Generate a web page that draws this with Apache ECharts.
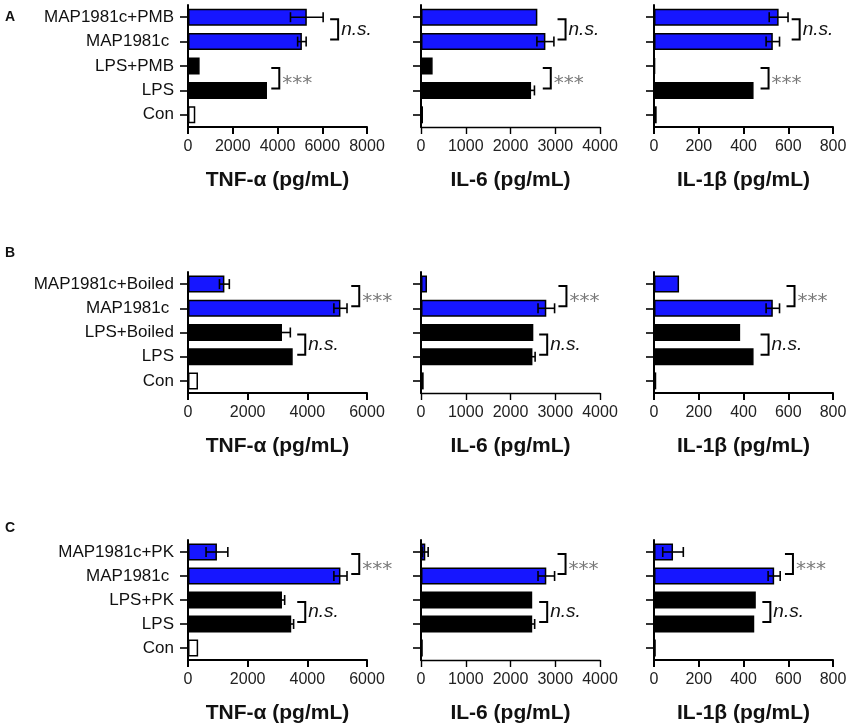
<!DOCTYPE html>
<html>
<head>
<meta charset="utf-8">
<script src="https://cdn.jsdelivr.net/npm/echarts@6/dist/echarts.min.js"></script>
<style>
  html, body { margin: 0; padding: 0; background: #fff; }
  #main { width: 851px; height: 727px; }
</style>
</head>
<body>
<div id="main"></div>
<script>
// groups, top to bottom, one list per row (A, B, C)
var catsA = ['MAP1981c+PMB', 'MAP1981c ', 'LPS+PMB', 'LPS', 'Con'];
var catsB = ['MAP1981c+Boiled', 'MAP1981c ', 'LPS+Boiled', 'LPS', 'Con'];
var catsC = ['MAP1981c+PK', 'MAP1981c ', 'LPS+PK', 'LPS', 'Con'];

// means and SEM (pg/mL), same order as the categories
var tnfA = [5310, 5090, 520, 3530, 325];
var tnfErrA = [730, 190, 0, 0, 0];
var il6A = [2600, 2780, 260, 2460, 45];
var il6ErrA = [0, 190, 0, 75, 0];
var il1bA = [557, 531, 5, 445, 12];
var il1bErrA = [42, 30, 0, 0, 0];

var tnfB = [1220, 5110, 3150, 3510, 335];
var tnfErrB = [165, 220, 280, 0, 0];
var il6B = [134, 2800, 2510, 2490, 60];
var il6ErrB = [0, 185, 0, 60, 0];
var il1bB = [112, 531, 385, 445, 10];
var il1bErrB = [0, 30, 0, 0, 0];

var tnfC = [970, 5110, 3150, 3460, 340];
var tnfErrC = [365, 220, 90, 80, 0];
var il6C = [96, 2800, 2485, 2485, 40];
var il6ErrC = [64, 185, 0, 55, 0];
var il1bC = [85, 537, 455, 448, 8];
var il1bErrC = [46, 27, 0, 0, 0];

// axis ranges per column, per row
var tnfMax = [8000, 6000, 6000];
var il6Max = [4000, 4000, 4000];
var il1bMax = [800, 800, 800];
var axisStep = [2000, 1000, 200];

var axisTitles = ['TNF-\u03b1 (pg/mL)', 'IL-6 (pg/mL)', 'IL-1\u03b2 (pg/mL)'];
var panelLetters = ['A', 'B', 'C'];

// significance brackets: [row, col, upper group, lower group, x of bracket, label]
var sigMarks = [
  [0, 0, 0, 1, 6710, 'n.s.'], [0, 0, 2, 3, 4080, '***'],
  [0, 1, 0, 1, 3230, 'n.s.'], [0, 1, 2, 3, 2900, '***'],
  [0, 2, 0, 1, 651, 'n.s.'], [0, 2, 2, 3, 512, '***'],
  [1, 0, 0, 1, 5740, '***'], [1, 0, 2, 3, 3930, 'n.s.'],
  [1, 1, 0, 1, 3250, '***'], [1, 1, 2, 3, 2820, 'n.s.'],
  [1, 2, 0, 1, 628, '***'], [1, 2, 2, 3, 512, 'n.s.'],
  [2, 0, 0, 1, 5740, '***'], [2, 0, 2, 3, 3930, 'n.s.'],
  [2, 1, 0, 1, 3230, '***'], [2, 1, 2, 3, 2820, 'n.s.'],
  [2, 2, 0, 1, 621, '***'], [2, 2, 2, 3, 520, 'n.s.']
];

var barFill = ['#1616ff', '#1616ff', '#000000', '#000000', '#ffffff'];

var rows = [
  { cats: catsA, vals: [tnfA, il6A, il1bA], errs: [tnfErrA, il6ErrA, il1bErrA] },
  { cats: catsB, vals: [tnfB, il6B, il1bB], errs: [tnfErrB, il6ErrB, il1bErrB] },
  { cats: catsC, vals: [tnfC, il6C, il1bC], errs: [tnfErrC, il6ErrC, il1bErrC] }
];
var maxes = [tnfMax, il6Max, il1bMax];

var rowTop = [5, 272, 540];
var rowHeight = [122, 121, 120];
var colLeft = [188, 421, 654];
var colWidth = 179;
var letterTop = [10, 246, 521];

var myChart = echarts.init(document.getElementById('main'));

var grids = [], xAxes = [], yAxes = [], series = [], titles = [];

function renderErr(params, api) {
  var y = api.value(2);
  var lo = api.coord([api.value(0), y]);
  var hi = api.coord([api.value(1), y]);
  var h = 5;
  var st = { stroke: '#000', lineWidth: 1.6 };
  return {
    type: 'group',
    children: [
      { type: 'line', shape: { x1: lo[0], y1: lo[1], x2: hi[0], y2: hi[1] }, style: st },
      { type: 'line', shape: { x1: lo[0], y1: lo[1] - h, x2: lo[0], y2: lo[1] + h }, style: st },
      { type: 'line', shape: { x1: hi[0], y1: hi[1] - h, x2: hi[0], y2: hi[1] + h }, style: st }
    ]
  };
}

function makeBracket(label) {
  return function(params, api) {
    var p1 = api.coord([api.value(0), api.value(1)]);
    var p2 = api.coord([api.value(0), api.value(2)]);
    var arm = 8;
    var y1 = p1[1] + 2, y2 = p2[1] - 2;
    var stars = label === '***';
    return {
      type: 'group',
      children: [
        {
          type: 'polyline',
          shape: { points: [[p1[0] - arm, y1], [p1[0], y1], [p2[0], y2], [p2[0] - arm, y2]] },
          style: { stroke: '#000', lineWidth: 2, fill: null }
        },
        {
          type: 'text',
          x: p1[0] + 3,
          y: (y1 + y2) / 2 + (stars ? 6 : 0),
          style: {
            text: label,
            fill: stars ? '#7a7a7a' : '#111',
            font: stars ? '20px "DejaVu Sans"' : 'italic 19px "Liberation Sans", Arial',
            verticalAlign: 'middle',
            align: 'left'
          }
        }
      ]
    };
  };
}

for (var r = 0; r < 3; r++) {
  titles.push({
    text: panelLetters[r], left: 5, top: letterTop[r], padding: 0,
    textStyle: { fontSize: 14, fontWeight: 'bold', color: '#111', fontFamily: 'Liberation Sans, Arial' }
  });
  for (var c = 0; c < 3; c++) {
    var k = r * 3 + c;
    var thick = c === 1 ? 1.4 : 2;
    grids.push({ left: colLeft[c], top: rowTop[r], width: colWidth, height: rowHeight[r], containLabel: false });
    xAxes.push({
      gridIndex: k, type: 'value', min: 0, max: maxes[c][r], interval: axisStep[c],
      name: axisTitles[c], nameLocation: 'middle', nameGap: 43,
      nameTextStyle: { fontSize: 21, fontWeight: 'bold', color: '#111', fontFamily: 'Liberation Sans, Arial' },
      axisLine: { show: true, lineStyle: { color: '#000', width: thick } },
      axisTick: { show: true, length: 7, lineStyle: { color: '#000', width: thick } },
      axisLabel: {
        fontSize: 16, color: '#222', margin: 12, fontFamily: 'Liberation Sans, Arial',
        formatter: function(v) { return String(v); }
      },
      splitLine: { show: false }
    });
    yAxes.push({
      gridIndex: k, type: 'category', data: rows[r].cats, inverse: true,
      axisLine: { show: true, lineStyle: { color: '#000', width: 2 } },
      axisTick: { show: true, alignWithLabel: true, length: 8, lineStyle: { color: '#000', width: 1.6 } },
      axisLabel: { show: c === 0, fontSize: 17, color: '#111', margin: 14, fontFamily: 'Liberation Sans, Arial' },
      splitLine: { show: false }
    });

    var vals = rows[r].vals[c];
    var errs = rows[r].errs[c];
    series.push({
      type: 'bar', xAxisIndex: k, yAxisIndex: k, barWidth: 17,
      data: vals.map(function(v, i) {
        return { value: v, itemStyle: { color: barFill[i], borderColor: '#000', borderWidth: 1.5 } };
      }),
      z: 2
    });

    var errData = [];
    for (var i = 0; i < vals.length; i++) {
      if (errs[i] > 0) errData.push([vals[i] - errs[i], vals[i] + errs[i], i]);
    }
    series.push({
      type: 'custom', xAxisIndex: k, yAxisIndex: k, renderItem: renderErr,
      data: errData, z: 3, silent: true
    });

    sigMarks.forEach(function(m) {
      if (m[0] === r && m[1] === c) {
        series.push({
          type: 'custom', xAxisIndex: k, yAxisIndex: k, renderItem: makeBracket(m[5]),
          data: [[m[4], m[2], m[3]]], z: 4, silent: true, clip: false
        });
      }
    });
  }
}

var option = {
  animation: false,
  backgroundColor: '#fff',
  title: titles,
  grid: grids,
  xAxis: xAxes,
  yAxis: yAxes,
  series: series
};
myChart.setOption(option);
</script>
</body>
</html>
